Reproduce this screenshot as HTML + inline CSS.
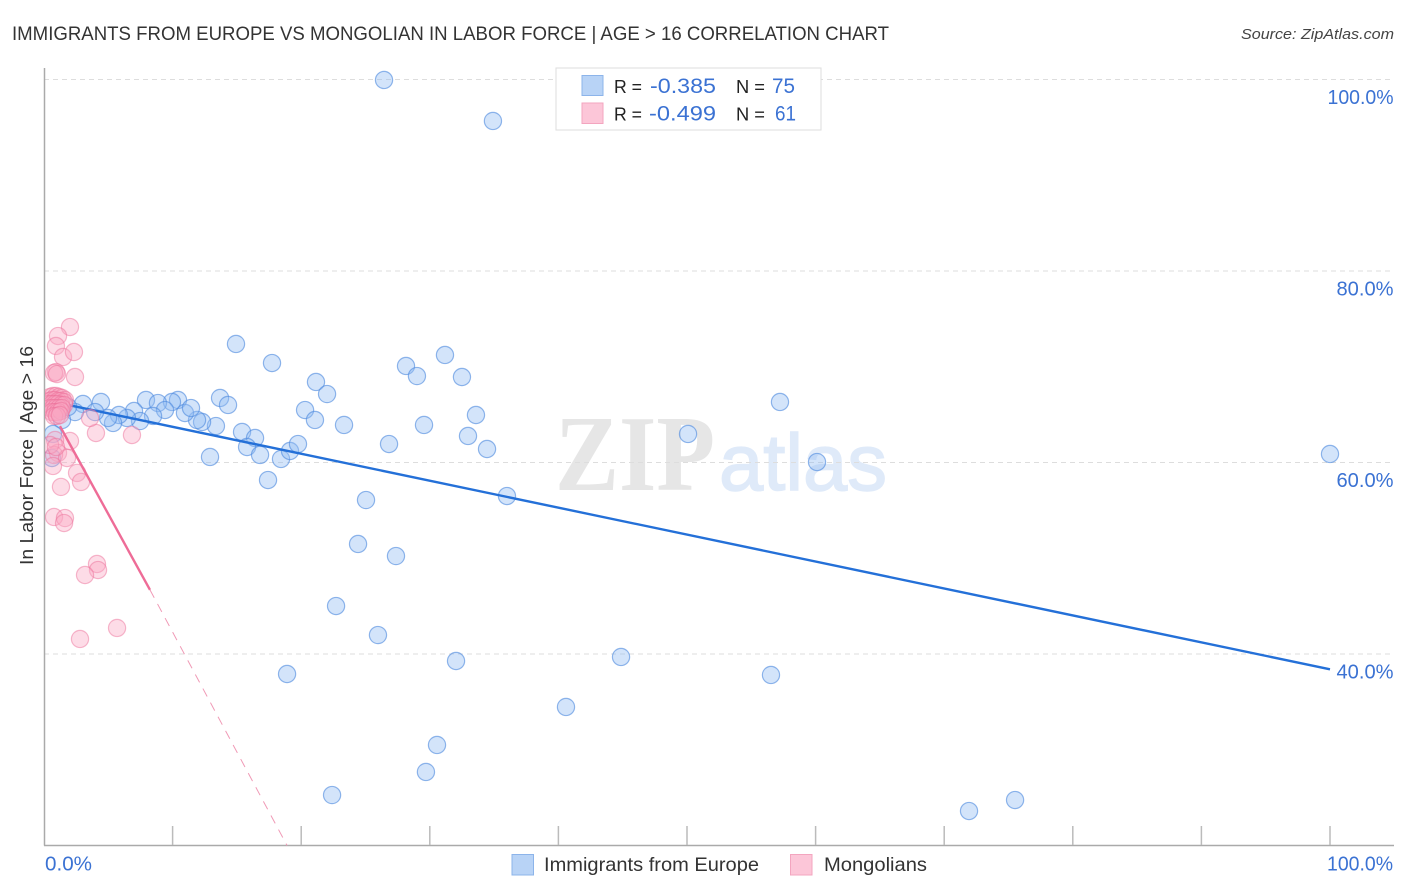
<!DOCTYPE html>
<html lang="en">
<head>
<meta charset="utf-8">
<title>Immigrants from Europe vs Mongolian in Labor Force | Age > 16 Correlation Chart</title>
<style>
html,body{margin:0;padding:0;background:#fff;width:1406px;height:892px;overflow:hidden}
svg{display:block;font-family:"Liberation Sans",sans-serif}
</style>
</head>
<body>
<svg id="chart" width="1406" height="892" viewBox="0 0 1406 892" xmlns="http://www.w3.org/2000/svg">
  <defs>
    <clipPath id="plot-clip"><rect x="45" y="60" width="1361" height="786"/></clipPath>
  </defs>
  <text x="12" y="40" font-size="19" fill="#333" textLength="877" lengthAdjust="spacingAndGlyphs">IMMIGRANTS FROM EUROPE VS MONGOLIAN IN LABOR FORCE | AGE &gt; 16 CORRELATION CHART</text>
  <text x="1241" y="39" font-size="15" font-style="italic" fill="#444" textLength="153" lengthAdjust="spacingAndGlyphs">Source: ZipAtlas.com</text>
  <g>
    <text x="555" y="490" font-size="108" font-weight="bold" fill="#e6e6e6" font-family="'Liberation Serif',serif" textLength="160" lengthAdjust="spacingAndGlyphs">ZIP</text>
    <text x="719" y="490" font-size="80" fill="#dfeaf9" stroke="#dfeaf9" stroke-width="1.5" textLength="168" lengthAdjust="spacingAndGlyphs">atlas</text>
  </g>
  <g id="grid"></g>
  <g id="axes"></g>
  <g id="blue-points" clip-path="url(#plot-clip)"></g>
  <g id="blue-trend"></g>
  <g id="pink-points" clip-path="url(#plot-clip)"></g>
  <g id="pink-trend"></g>
  <g id="y-labels"></g>
  <g id="x-labels"></g>
  <text transform="translate(33,565) rotate(-90)" font-size="18.5" fill="#333" textLength="219" lengthAdjust="spacingAndGlyphs">In Labor Force | Age &gt; 16</text>
  <g>
    <rect x="556" y="68" width="265" height="62" fill="#fff" stroke="#ddd" stroke-width="1"/>
    <rect x="582" y="75.500" width="21" height="20" fill="#b8d3f6" stroke="#8cb4ea" stroke-width="1"/>
    <rect x="582" y="103" width="21" height="20.500" fill="#fcc6d8" stroke="#f3a5bf" stroke-width="1"/>
    <text x="614" y="93" font-size="18.500" fill="#222" textLength="28" lengthAdjust="spacingAndGlyphs">R =</text>
    <text x="650" y="93" font-size="21" fill="#3b72d3" textLength="66" lengthAdjust="spacingAndGlyphs">-0.385</text>
    <text x="736" y="93" font-size="18.500" fill="#222" textLength="29" lengthAdjust="spacingAndGlyphs">N =</text>
    <text x="772" y="93" font-size="21" fill="#3b72d3" textLength="23" lengthAdjust="spacingAndGlyphs">75</text>
    <text x="614" y="120.500" font-size="18.500" fill="#222" textLength="28" lengthAdjust="spacingAndGlyphs">R =</text>
    <text x="649" y="120.500" font-size="21" fill="#3b72d3" textLength="67" lengthAdjust="spacingAndGlyphs">-0.499</text>
    <text x="736" y="120.500" font-size="18.500" fill="#222" textLength="29" lengthAdjust="spacingAndGlyphs">N =</text>
    <text x="775" y="120.500" font-size="21" fill="#3b72d3" textLength="21" lengthAdjust="spacingAndGlyphs">61</text>
  </g>
  <g>
    <rect x="512" y="854.500" width="21.500" height="20.500" fill="#b8d3f6" stroke="#8cb4ea" stroke-width="1"/>
    <text x="544" y="871" font-size="19.500" fill="#333" textLength="215" lengthAdjust="spacingAndGlyphs">Immigrants from Europe</text>
    <rect x="790.500" y="854.500" width="21.500" height="20.500" fill="#fcc6d8" stroke="#f3a5bf" stroke-width="1"/>
    <text x="824" y="871" font-size="19.500" fill="#333" textLength="103" lengthAdjust="spacingAndGlyphs">Mongolians</text>
  </g>
</svg>
<script>
const europeX = [26.44,34.91,14.93,17.73,31.18,28.15,29.00,32.50,21.15,22.01,57.23,13.69,14.31,7.93,10.42,9.95,8.86,4.43,3.03,20.30,21.07,23.33,29.55,33.59,32.97,34.45,26.83,50.08,100,60.11,15.40,16.41,15.79,16.80,18.43,19.13,19.75,12.91,17.42,25.04,36.00,24.42,27.37,22.71,25.97,32.04,44.87,56.53,18.90,40.59,30.56,29.70,22.40,71.93,75.51,13.37,12.29,11.90,10.96,11.43,9.41,8.48,7.00,7.47,6.45,5.83,5.37,4.98,3.97,2.41,1.87,1.24,1.40,0.70,0.62];
const europeY = [99.95,95.67,72.38,70.39,71.23,70.08,69.03,68.93,68.41,67.15,66.32,66.74,66.01,66.53,66.53,66.32,66.21,66.32,66.11,65.48,64.44,63.92,63.92,64.96,62.77,61.41,61.93,62.98,60.89,60.05,63.19,62.56,61.62,60.79,60.37,61.20,61.93,60.58,58.17,56.08,56.50,51.49,50.23,45.01,41.98,39.27,39.69,37.81,37.91,34.47,30.50,27.68,25.27,23.60,24.75,63.81,64.23,64.44,65.17,65.69,65.48,64.86,65.38,64.33,64.65,64.96,64.13,64.65,65.27,65.27,65.80,65.59,64.44,62.98,60.47];
const mongolianX = [2.02,1.09,0.93,1.48,2.33,2.41,0.93,0.78,1.01,4.04,2.02,0.86,1.09,0.78,1.79,0.70,2.57,2.88,1.32,0.78,1.63,1.56,6.84,3.58,4.12,4.20,3.19,5.68,2.80,0.47,0.70,0.93,1.17,1.40,1.63,0.39,0.62,0.86,1.09,1.32,1.56,0.39,0.62,0.86,1.09,1.32,1.56,0.47,0.70,0.93,1.17,1.40,0.62,0.86,1.09,1.32,0.78,1.01,1.24,0.47,0.93];
const mongolianY = [74.15,73.21,72.17,71.02,71.54,68.93,69.45,69.35,69.24,63.08,62.25,62.35,61.00,60.79,60.47,59.64,58.91,57.97,57.45,54.31,54.20,53.68,62.87,64.65,49.40,48.77,48.25,42.72,41.57,66.84,66.95,66.95,66.84,66.74,66.53,66.42,66.53,66.53,66.42,66.42,66.32,66.11,66.11,66.11,66.11,66.01,66.01,65.69,65.69,65.69,65.69,65.69,65.27,65.27,65.27,65.38,64.86,64.86,64.96,61.83,61.62];
const europeTrendX = [0.85,100];
const europeTrendY = [66.30,38.40];
const mongolianTrendX = [1.24,8.24];
const mongolianTrendY = [63.80,46.70];
const mongolianDashX = [8.24,18.90];
const mongolianDashY = [46.70,20.00];
const gridValues = [100,80,60,40];
const yTickLabels = ["100.0%","80.0%","60.0%","40.0%"];
const xTickValues = [10,20,30,40,50,60,70,80,90,100];
const xEndValues = [0,100];
const xEndLabels = ["0.0%","100.0%"];

const NS = "http://www.w3.org/2000/svg";
function xScale(v){ return 44 + v * 12.86; }
function yScale(v){ return 79.5 + (100 - v) * 9.575; }
function make(tag, attrs, parent){
  const el = document.createElementNS(NS, tag);
  Object.keys(attrs).forEach(function(k){ el.setAttribute(k, attrs[k]); });
  parent.appendChild(el);
  return el;
}

const gridG = document.getElementById("grid");
gridValues.forEach(function(v){
  const el = make("line", {x1:44, x2:1394, y1:yScale(v), y2:yScale(v), stroke:"#ddd", "stroke-width":1, "stroke-dasharray":"5 4"}, gridG);
  
  
});

const axesG = document.getElementById("axes");
const yAxisLine = make("line", {x1:44.5, x2:44.5, y1:68, y2:845.5, stroke:"#aaa", "stroke-width":1.5}, axesG);


const xAxisLine = make("line", {x1:44, x2:1394, y1:845.5, y2:845.5, stroke:"#aaa", "stroke-width":1.5}, axesG);


xTickValues.forEach(function(v){
  const el = make("line", {x1:xScale(v), x2:xScale(v), y1:826, y2:845, stroke:"#bbb", "stroke-width":1.5}, axesG);
  
  
});

const blueG = document.getElementById("blue-points");
europeX.forEach(function(x, i){
  const el = make("circle", {cx:xScale(x), cy:yScale(europeY[i]), r:8.6, fill:"#90bcf2", "fill-opacity":0.4, stroke:"#4f8ade", "stroke-opacity":0.62, "stroke-width":1.2}, blueG);
  
  
});

const blueTrendLine = make("line", {x1:xScale(europeTrendX[0]), y1:yScale(europeTrendY[0]), x2:xScale(europeTrendX[1]), y2:yScale(europeTrendY[1]), stroke:"#2470d8", "stroke-width":2.4}, document.getElementById("blue-trend"));



const pinkG = document.getElementById("pink-points");
mongolianX.forEach(function(x, i){
  const el = make("circle", {cx:xScale(x), cy:yScale(mongolianY[i]), r:8.6, fill:"#f9a8c3", "fill-opacity":0.4, stroke:"#ec6f98", "stroke-opacity":0.48, "stroke-width":1.2}, pinkG);
  
  
});

const pinkTrendG = document.getElementById("pink-trend");
const pinkTrendLine = make("line", {x1:xScale(mongolianTrendX[0]), y1:yScale(mongolianTrendY[0]), x2:xScale(mongolianTrendX[1]), y2:yScale(mongolianTrendY[1]), stroke:"#ee6c97", "stroke-width":2.4}, pinkTrendG);


const pinkDashLine = make("line", {x1:xScale(mongolianDashX[0]), y1:yScale(mongolianDashY[0]), x2:xScale(mongolianDashX[1]), y2:yScale(mongolianDashY[1]), stroke:"#f09ab6", "stroke-width":1, "stroke-dasharray":"9 7"}, pinkTrendG);



const yLabelG = document.getElementById("y-labels");
gridValues.forEach(function(v, i){
  const el = make("text", {x:1393.5, y:yScale(v) + 24.5, "font-size":20.5, fill:"#3b72d3", "text-anchor":"end", textLength: yTickLabels[i].length === 6 ? 66 : 57, lengthAdjust:"spacingAndGlyphs"}, yLabelG);
  el.textContent = yTickLabels[i];
  
  
});

const xLabelG = document.getElementById("x-labels");
xEndValues.forEach(function(v, i){
  const isFirst = i === 0;
  const el = make("text", {x: isFirst ? 45 : 1327, y:870.5, "font-size":20.5, fill:"#3b72d3", textLength: isFirst ? 47 : 66, lengthAdjust:"spacingAndGlyphs"}, xLabelG);
  el.textContent = xEndLabels[i];
  
  
});
</script>
</body>
</html>
